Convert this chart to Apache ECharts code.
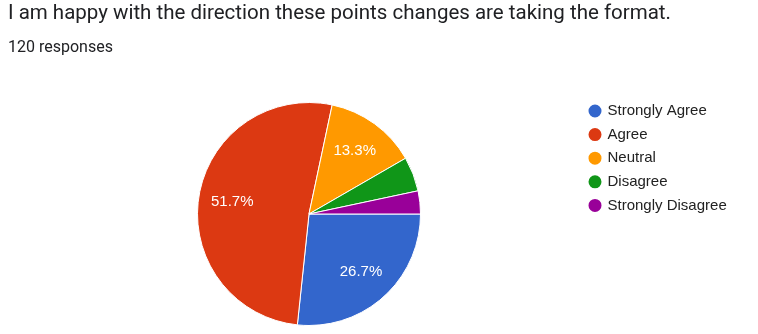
<!DOCTYPE html>
<html>
<head>
<meta charset="utf-8">
<script src="https://cdn.jsdelivr.net/npm/echarts@6/dist/echarts.min.js"></script>
<style>html,body{margin:0;padding:0;background:#fff}#c{width:758px;height:334px}</style>
</head>
<body>
<div id="c"></div>
<script>
const categories = ['Strongly Agree', 'Agree', 'Neutral', 'Disagree', 'Strongly Disagree'];
const values = [32, 62, 16, 6, 4];
const colors = ['#3366cc', '#dc3912', '#ff9900', '#109618', '#990099'];
const titleText = 'I am happy with the direction these points changes are taking the format.';
const subText = '120 responses';

const data = categories.map((n, i) => ({ name: n, value: values[i], itemStyle: { color: colors[i] } }));
const total = values.reduce((a, b) => a + b, 0);

const chart = echarts.init(document.getElementById('c'), null, { renderer: 'canvas' });
chart.setOption({
  animation: false,
  title: [
    { text: titleText, left: 8, top: 3, padding: 0, textStyle: { fontFamily: 'Roboto', fontSize: 20.5, fontWeight: 'normal', color: '#202124' } },
    { text: subText, left: 8, top: 39.5, padding: 0, textStyle: { fontFamily: 'Roboto', fontSize: 16, fontWeight: 'normal', color: '#202124' } }
  ],
  legend: {
    orient: 'vertical', left: 586.5, top: 102.5, padding: 0, itemWidth: 15, itemHeight: 15, itemGap: 6.6, icon: 'circle',
    data: categories,
    textStyle: { fontFamily: 'Liberation Sans, Arial', fontSize: 15, lineHeight: 15, color: '#222' }
  },
  series: [
    {
      type: 'pie', center: [309, 214], radius: [0, 111.5], startAngle: 0, clockwise: true,
      label: { show: false }, labelLine: { show: false },
      itemStyle: { borderColor: '#fff', borderWidth: 1 },
      emphasis: { disabled: true },
      data: data
    },
    {
      type: 'pie', center: [309, 214], radius: [38, 111.5], startAngle: 0, clockwise: true, silent: true,
      itemStyle: { color: 'rgba(0,0,0,0)', borderWidth: 0 },
      labelLine: { show: false },
      emphasis: { disabled: true },
      label: {
        show: true, position: 'inside', color: '#fff', fontFamily: 'Liberation Sans, Arial', fontSize: 15,
        formatter: p => (p.value / total < 0.1 ? '' : (p.value / total * 100).toFixed(1) + '%')
      },
      data: categories.map((n, i) => ({ name: n, value: values[i] }))
    }
  ]
});
</script>
</body>
</html>
